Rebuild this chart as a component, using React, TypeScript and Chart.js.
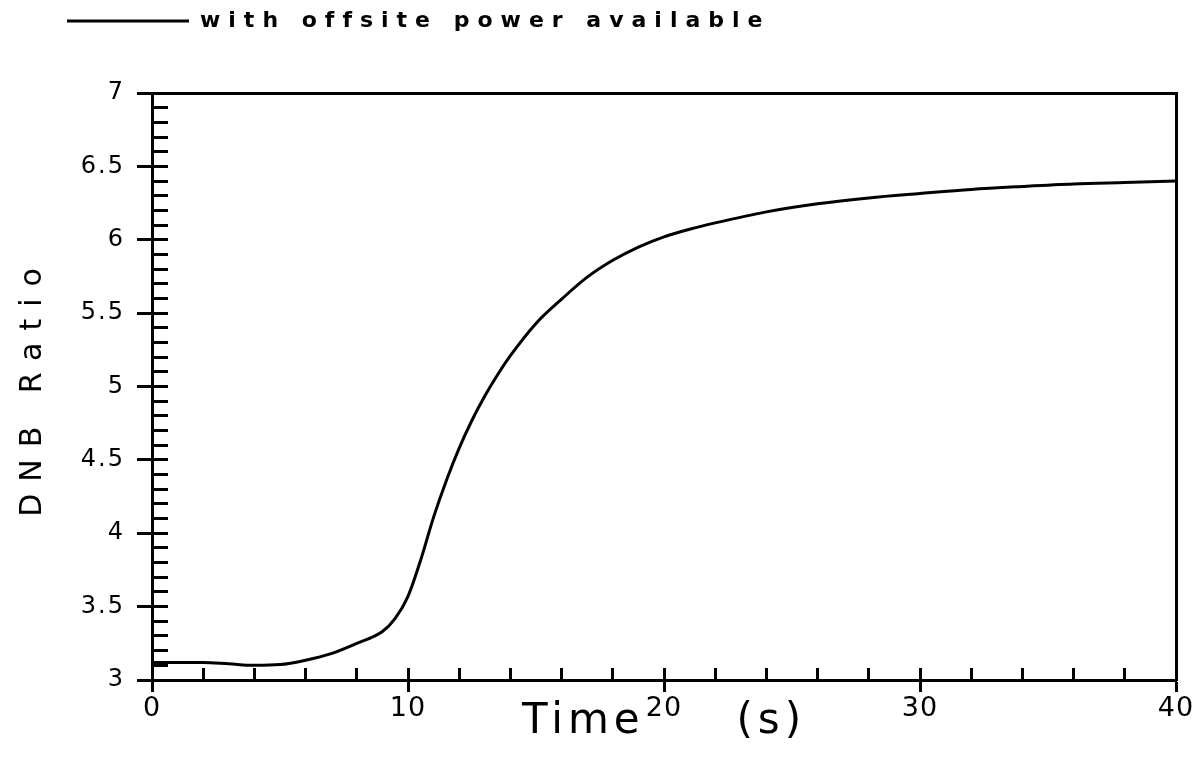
import React, { useEffect, useRef } from 'react';
import { Chart, registerables } from 'chart.js';

Chart.register(...registerables);

// ---- data ----
const timeS: number[] = [
  0, 1, 2, 3, 4, 5, 6, 7, 8, 9, 9.5, 10, 10.5, 11, 11.5, 12, 12.5, 13, 13.5, 14,
  15, 16, 17, 18, 19, 20, 21, 22, 24, 26, 28, 30, 32, 34, 36, 38, 40,
];
const dnbRatio: number[] = [
  3.12, 3.12, 3.12, 3.11, 3.1, 3.105, 3.135, 3.18, 3.25, 3.33, 3.42, 3.57, 3.82, 4.11, 4.36, 4.58, 4.77, 4.935, 5.08, 5.21,
  5.43, 5.595, 5.745, 5.86, 5.95, 6.02, 6.072, 6.115, 6.19, 6.245, 6.285, 6.315, 6.343, 6.363, 6.38, 6.39, 6.4,
];
const xTickLabels: string[] = ['0', '10', '20', '30', '40'];
const yTickLabels: string[] = ['3', '3.5', '4', '4.5', '5', '5.5', '6', '6.5', '7'];
const seriesLabel = 'with offsite power available';
const xTitle = 'Time     (s)';
const yTitle = 'DNB Ratio';

const FONT = "'DejaVu Sans', 'Liberation Sans', sans-serif";
const INK = '#000';

// letter spacing (px) applied per font size, imitating the plotter lettering
const LETTER_SPACING: Record<number, number> = { 22: 8, 24: 2, 27: 1, 30: 12, 42: 5 };

function patchContext(ctx: any) {
  const desc = Object.getOwnPropertyDescriptor(CanvasRenderingContext2D.prototype, 'font');
  if (!desc || !desc.get || !desc.set || !('letterSpacing' in ctx)) return;
  Object.defineProperty(ctx, 'font', {
    configurable: true,
    get() {
      return desc.get!.call(this);
    },
    set(v: string) {
      desc.set!.call(this, v);
      const m = /([\d.]+)px/.exec(String(v));
      const s = m ? LETTER_SPACING[Math.round(parseFloat(m[1]))] || 0 : 0;
      this.letterSpacing = s + 'px';
    },
  });
}

function labelFor(list: string[], v: number): string {
  const hit = list.find((l) => Math.abs(parseFloat(l) - v) < 1e-6);
  return hit === undefined ? '' : hit;
}

export default function App() {
  const canvasRef = useRef<HTMLCanvasElement | null>(null);

  useEffect(() => {
    const canvas = canvasRef.current;
    if (!canvas) return;
    const ctx = canvas.getContext('2d');
    if (!ctx) return;
    patchContext(ctx);

    const chart = new Chart(ctx as any, {
      type: 'line',
      data: {
        datasets: [
          {
            label: seriesLabel,
            data: timeS.map((t, i) => ({ x: t, y: dnbRatio[i] })),
            xAxisID: 'x',
            yAxisID: 'y',
            borderColor: INK,
            backgroundColor: INK,
            borderWidth: 3,
            pointRadius: 0,
            fill: false,
            cubicInterpolationMode: 'monotone',
          },
        ],
      },
      options: {
        animation: false,
        responsive: false,
        events: [],
        layout: { padding: { top: -57, left: 0, right: 0, bottom: 0 } },
        plugins: {
          legend: {
            position: 'top',
            align: 'start',
            labels: {
              boxWidth: 122,
              boxHeight: 0,
              padding: 67,
              color: INK,
              font: { family: FONT, size: 22, weight: 'bold' },
            },
          },
          tooltip: { enabled: false },
        },
        scales: {
          x: {
            type: 'linear',
            axis: 'x',
            position: 'bottom',
            min: 0,
            max: 40,
            afterFit: (s: any) => {
              s.height = 100;
            },
            ticks: {
              stepSize: 10,
              padding: 1,
              autoSkip: false,
              maxRotation: 0,
              color: INK,
              font: { family: FONT, size: 27 },
              callback: (v: any) => labelFor(xTickLabels, Number(v)),
            },
            grid: {
              drawOnChartArea: false,
              drawTicks: true,
              tickLength: 12,
              tickColor: INK,
              tickWidth: 3,
            },
            border: { display: true, color: INK, width: 3 },
            title: {
              display: true,
              text: xTitle,
              color: INK,
              font: { family: FONT, size: 42 },
              padding: { top: 0, bottom: 33 },
            },
          },
          xIn: {
            type: 'linear',
            axis: 'x',
            position: { y: 3 },
            min: 0,
            max: 40,
            afterFit: (s: any) => {
              s.height = 0;
            },
            ticks: { display: false, stepSize: 2 },
            grid: {
              drawOnChartArea: false,
              drawTicks: true,
              tickLength: -12,
              tickColor: INK,
              tickWidth: 3,
            },
            border: { display: false },
          },
          xTop: {
            type: 'linear',
            axis: 'x',
            position: 'top',
            min: 0,
            max: 40,
            afterFit: (s: any) => {
              s.height = 51;
            },
            ticks: { display: false },
            grid: { display: false },
            border: { display: true, color: INK, width: 3 },
          },
          y: {
            type: 'linear',
            axis: 'y',
            position: 'left',
            min: 3,
            max: 7,
            afterFit: (s: any) => {
              s.width = 152;
            },
            ticks: {
              stepSize: 0.5,
              padding: 12,
              autoSkip: false,
              color: INK,
              font: { family: FONT, size: 24 },
              callback: (v: any) => labelFor(yTickLabels, Number(v)),
            },
            grid: {
              drawOnChartArea: false,
              drawTicks: true,
              tickLength: 15,
              tickColor: INK,
              tickWidth: 3,
            },
            border: { display: true, color: INK, width: 3 },
            title: {
              display: true,
              text: yTitle,
              color: INK,
              font: { family: FONT, size: 30 },
              padding: { top: 15, bottom: 0 },
            },
          },
          yIn: {
            type: 'linear',
            axis: 'y',
            position: { x: 0 },
            min: 3,
            max: 7,
            afterFit: (s: any) => {
              s.width = 0;
            },
            ticks: { display: false, stepSize: 0.1 },
            grid: {
              drawOnChartArea: false,
              drawTicks: true,
              tickLength: -16,
              tickColor: INK,
              tickWidth: 3,
            },
            border: { display: false },
          },
          yRight: {
            type: 'linear',
            axis: 'y',
            position: 'right',
            min: 3,
            max: 7,
            afterFit: (s: any) => {
              s.width = 28;
            },
            ticks: { display: false },
            grid: { display: false },
            border: { display: true, color: INK, width: 3 },
          },
        },
      } as any,
    });

    return () => {
      chart.destroy();
    };
  }, []);

  return (
    <div
      style={{
        position: 'fixed',
        left: 0,
        top: 0,
        width: 1204,
        height: 780,
        background: '#fff',
      }}
    >
      <canvas
        ref={canvasRef}
        width={1204}
        height={780}
        style={{ display: 'block', width: 1204, height: 780 }}
      />
    </div>
  );
}
